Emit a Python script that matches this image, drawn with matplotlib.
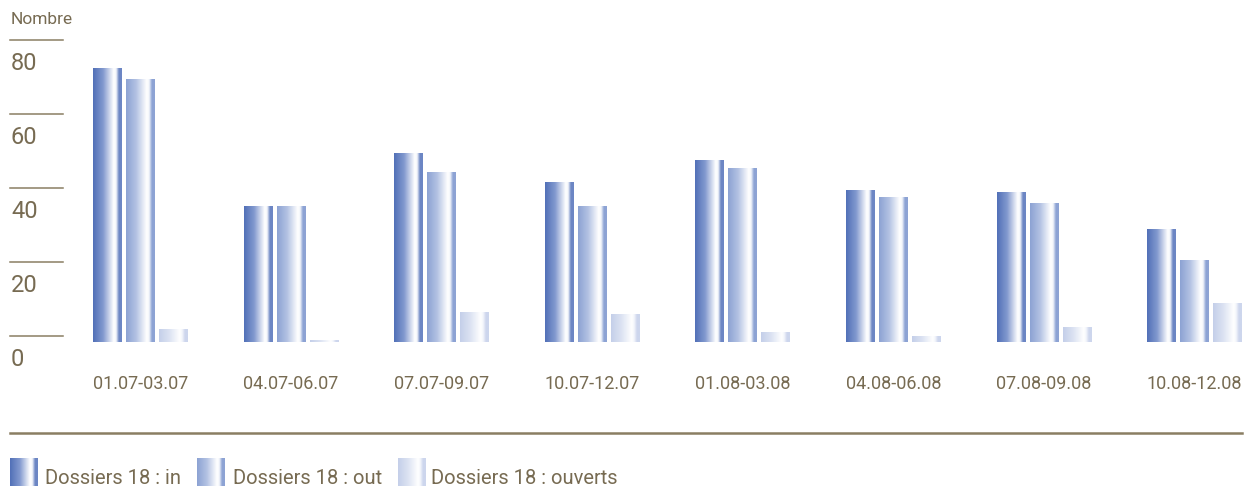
import numpy as np
import matplotlib
matplotlib.use("Agg")
import matplotlib.pyplot as plt
import matplotlib.transforms as mtransforms
from matplotlib import font_manager
from matplotlib.colors import LinearSegmentedColormap

periods = ["01.07-03.07", "04.07-06.07", "07.07-09.07", "10.07-12.07",
           "01.08-03.08", "04.08-06.08", "07.08-09.08", "10.08-12.08"]
dossiers_in = [74, 36.5, 51, 43, 49, 41, 40.5, 30.5]
dossiers_out = [71, 36.5, 45.7, 36.5, 47, 39, 37.5, 22]
dossiers_ouverts = [3.5, 0.5, 8, 7.5, 2.7, 1.6, 4, 10.5]
series_labels = ["Dossiers 18 : in", "Dossiers 18 : out", "Dossiers 18 : ouverts"]
y_ticks = [0, 20, 40, 60, 80]


def pick_font():
    for name in ["Liberation Sans Narrow", "Roboto", "DejaVu Sans"]:
        try:
            font_manager.findfont(name, fallback_to_default=False)
            return name
        except ValueError:
            continue
    return "DejaVu Sans"


plt.rcParams["font.family"] = [pick_font(), "DejaVu Sans"]

TEXT = "#776b52"
LINE = "#8a7e63"

# gradients: dark on the left, white near 3/4, coloured strip on the right
def make_cmap(name, left, mid, edge):
    return LinearSegmentedColormap.from_list(name, [
        (0.0, left), (0.35, mid), (0.72, "#ffffff"), (0.8, "#f4f6fb"),
        (0.9, edge), (1.0, edge)])


cmaps = [
    make_cmap("in", "#5170b7", "#8299cf", "#6c86c4"),
    make_cmap("out", "#8ca2d3", "#b3c2e3", "#8da3d4"),
    make_cmap("ouv", "#c4cfe9", "#dbe2f2", "#cdd6ed"),
]
grad = np.linspace(0, 1, 200).reshape(1, -1)

W, H = 1245, 486
fig = plt.figure(figsize=(W / 100, H / 100), dpi=100)

px_unit = 150.6
x_first = 140.5
y0_px, ytop_px = 342, 40
ax = fig.add_axes([0, (H - y0_px) / H, 1, (y0_px - ytop_px) / H])
ax.axis("off")

x = np.arange(len(periods))
step = 33 / px_unit
width = 29 / px_unit
for k, vals in enumerate([dossiers_in, dossiers_out, dossiers_ouverts]):
    bars = ax.bar(x + (k - 1) * step, vals, width, color="none", linewidth=0)
    for b in bars:
        bx, bw, bh = b.get_x(), b.get_width(), b.get_height()
        ax.imshow(grad, extent=[bx, bx + bw, 0, bh], aspect="auto",
                  cmap=cmaps[k], interpolation="bilinear", zorder=2)
ax.set_xlim(-x_first / px_unit, (W - x_first) / px_unit)
ax.set_ylim(0, (y0_px - ytop_px) / 3.7)

# y scale: short rule above each label
trans = mtransforms.blended_transform_factory(ax.transAxes, ax.transData)
up = trans + mtransforms.ScaledTranslation(0, 6 / 100, fig.dpi_scale_trans)
down = trans + mtransforms.ScaledTranslation(0, -17 / 100, fig.dpi_scale_trans)
for v in y_ticks:
    ax.plot([10 / W, 63 / W], [v, v], transform=up, color=LINE, lw=1.1,
            clip_on=False)
    ax.text(11 / W, v, str(v), transform=down, ha="left", va="center",
            fontsize=17, color=TEXT, clip_on=False)

fig.text(11 / W, 1 - 20 / H, "Nombre", ha="left", va="center",
         fontsize=12.5, color=TEXT)

# period labels
xt = mtransforms.blended_transform_factory(ax.transData, fig.transFigure)
for i, p in enumerate(periods):
    ax.text(x[i], 1 - 384 / H, p, transform=xt, ha="center", va="center",
            fontsize=13, color=TEXT)

# separator
fig.add_artist(plt.Line2D([10 / W, 1242 / W], [1 - 433 / H, 1 - 433 / H],
                          color=LINE, lw=1.8))

# legend
sw_x = [10, 197, 398]
tx_x = [45, 233, 431]
for k in range(3):
    sax = fig.add_axes([sw_x[k] / W, 0, 28 / W, 28 / H])
    sax.imshow(grad, aspect="auto", cmap=cmaps[k], interpolation="bilinear")
    sax.axis("off")
    fig.text(tx_x[k] / W, 2 / H, series_labels[k], ha="left", va="baseline",
             fontsize=14.5, color=TEXT)

fig.savefig("out.png", dpi=100)
